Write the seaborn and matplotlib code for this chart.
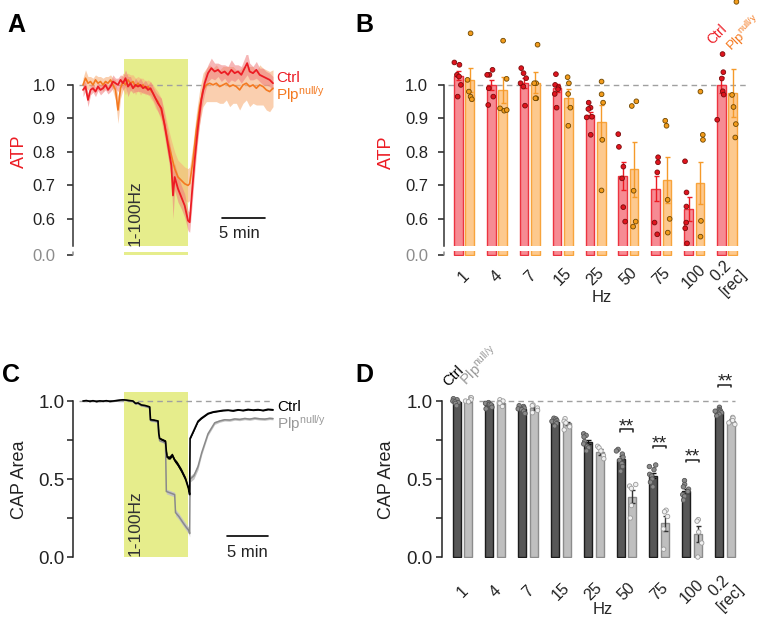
import numpy as np
import pandas as pd
import matplotlib
matplotlib.use("Agg")
import matplotlib.pyplot as plt
import matplotlib.transforms as mtransforms
import seaborn as sns

# ======================= DATA =======================
hz_labels = ["1", "4", "7", "15", "25", "50", "75", "100", "0.2\n[rec]"]
genotypes = ["Ctrl", "Plp"]
stim_window = [4.92, 12.6]          # minutes

# ---- Panel A: ATP time course ----
atp_t_ctrl = [0.0, 0.3, 0.6, 0.9, 1.2, 1.5, 1.8, 2.1, 2.4, 2.7, 3.0, 3.3, 3.6, 3.9, 4.2, 4.5, 4.8, 5.1, 5.4, 5.7,
              6.0, 6.3, 6.6, 6.9, 7.2, 7.5, 7.8, 8.1, 8.4, 8.7,
              9.0, 9.4, 9.8, 10.2, 10.6, 10.8, 11.0, 11.4, 11.8, 12.2, 12.6, 12.8, 13.0, 13.4, 13.8, 14.2, 14.6,
              15.0, 15.4, 15.8, 16.2, 16.6, 17.0, 17.4, 17.8, 18.2, 18.6, 19.0, 19.4, 19.7, 20.0, 20.4, 20.8,
              21.2, 21.6, 22.0, 22.4, 22.8]
atp_ctrl = [0.985, 0.995, 0.955, 0.985, 0.99, 0.98, 0.995, 0.985, 0.99, 1.0, 0.985, 0.995, 1.01, 1.005, 1.0,
            1.015, 1.005, 1.02, 0.995, 1.005, 0.99, 1.0, 0.995, 1.0, 0.99, 0.995, 0.985, 0.99, 0.975, 0.96,
            0.945, 0.93, 0.88, 0.82, 0.76, 0.67, 0.725, 0.69, 0.665, 0.64, 0.595, 0.59, 0.655, 0.775, 0.875,
            0.955, 1.005, 1.035, 1.05, 1.04, 1.045, 1.035, 1.04, 1.03, 1.045, 1.035, 1.04, 1.03, 1.05, 1.065,
            1.04, 1.035, 1.045, 1.03, 1.025, 1.02, 1.015, 1.005]
atp_ctrl_sem = [0.02, 0.015, 0.02, 0.015, 0.012, 0.015, 0.012, 0.015, 0.012, 0.015, 0.012, 0.015, 0.02, 0.015,
                0.02, 0.015, 0.02, 0.025, 0.03, 0.02, 0.015, 0.02, 0.015, 0.02, 0.015, 0.02, 0.015, 0.02, 0.02,
                0.02, 0.025, 0.03, 0.03, 0.035, 0.04, 0.07, 0.04, 0.04, 0.035, 0.035, 0.03, 0.03, 0.04, 0.04,
                0.035, 0.03, 0.03, 0.025, 0.03, 0.025, 0.02, 0.025, 0.02, 0.025, 0.03, 0.025, 0.02, 0.025, 0.03,
                0.035, 0.025, 0.02, 0.025, 0.02, 0.025, 0.02, 0.02, 0.02]
atp_t_plp = [0.0, 0.3, 0.6, 0.9, 1.2, 1.5, 1.8, 2.1, 2.4, 2.7, 3.0, 3.3, 3.6, 3.9, 4.2, 4.5, 4.8, 5.1, 5.4, 5.7,
             6.0, 6.3, 6.6, 6.9, 7.2, 7.5, 7.8, 8.1, 8.4, 8.7,
             9.0, 9.4, 9.8, 10.2, 10.6, 11.0, 11.4, 11.8, 12.2, 12.6, 12.8, 13.2, 13.6, 14.0, 14.4, 14.8, 15.2,
             15.6, 16.0, 16.4, 16.8, 17.2, 17.6, 18.0, 18.4, 18.8, 19.2, 19.6, 20.0, 20.4, 20.8, 21.2, 21.6,
             22.0, 22.4, 22.8]
atp_plp = [1.0, 1.02, 1.005, 1.01, 1.0, 1.015, 1.005, 1.01, 1.0, 1.01, 1.005, 1.015, 1.0, 0.985, 0.925, 0.99,
           1.01, 1.0, 1.015, 1.005, 1.01, 0.995, 1.005, 0.995, 1.0, 0.99, 0.995, 0.985, 0.975, 0.96,
           0.95, 0.925, 0.88, 0.83, 0.79, 0.75, 0.725, 0.715, 0.705, 0.70, 0.705, 0.775, 0.865, 0.935, 0.985,
           1.0, 1.005, 1.0, 1.005, 0.995, 1.0, 1.005, 0.995, 1.0, 0.995, 0.985, 1.0, 1.005, 0.995, 1.0, 0.99,
           1.0, 0.995, 0.985, 0.98, 0.99]
atp_plp_sem = [0.02, 0.025, 0.02, 0.015, 0.02, 0.015, 0.02, 0.015, 0.02, 0.015, 0.02, 0.015, 0.02, 0.03, 0.04,
               0.03, 0.025, 0.03, 0.02, 0.025, 0.02, 0.025, 0.02, 0.025, 0.02, 0.02, 0.02, 0.025, 0.025, 0.03,
               0.03, 0.035, 0.04, 0.045, 0.045, 0.05, 0.05, 0.05, 0.05, 0.05, 0.05, 0.05, 0.05, 0.05, 0.05,
               0.05, 0.055, 0.05, 0.055, 0.05, 0.055, 0.05, 0.06, 0.055, 0.05, 0.06, 0.055, 0.05, 0.06, 0.055,
               0.05, 0.06, 0.055, 0.06, 0.06, 0.055]

# ---- Panel B: ATP per frequency ----
atp_ctrl_mean = [1.027, 1.0, 1.007, 0.99, 0.91, 0.728, 0.69, 0.629, 1.0]
atp_ctrl_err = [0.013, 0.015, 0.015, 0.012, 0.01, 0.041, 0.038, 0.036, 0.025]
atp_plp_mean = [1.015, 0.985, 1.007, 0.96, 0.889, 0.748, 0.716, 0.707, 0.975]
atp_plp_err = [0.035, 0.04, 0.03, 0.027, 0.052, 0.082, 0.07, 0.062, 0.072]
atp_ctrl_points = [[1.067, 1.06, 1.03, 1.025, 1.0, 0.965],
                   [1.045, 1.03, 1.03, 0.99, 0.965, 0.94],
                   [1.05, 1.035, 1.02, 1.005, 0.995, 0.938],
                   [1.032, 1.0, 0.993, 0.987, 0.973, 0.932],
                   [0.947, 0.932, 0.928, 0.905, 0.903, 0.851],
                   [0.853, 0.815, 0.756, 0.721, 0.635, 0.592],
                   [0.784, 0.769, 0.739, 0.589, 0.554],
                   [0.772, 0.679, 0.637, 0.589, 0.572, 0.527],
                   [1.092, 1.038, 1.019, 0.981, 0.971, 0.896]]
atp_plp_points = [[1.154, 1.015, 0.98, 0.965, 0.957],
                  [1.132, 1.018, 0.93, 0.923, 0.925],
                  [1.12, 1.005, 1.005, 0.96, 0.96],
                  [1.023, 1.005, 0.973, 0.932, 0.878],
                  [1.01, 0.972, 0.947, 0.836, 0.685],
                  [0.951, 0.937, 0.684, 0.592, 0.577],
                  [0.893, 0.878, 0.657, 0.6, 0.559],
                  [0.98, 0.851, 0.836, 0.594, 0.547],
                  [1.248, 0.97, 0.934, 0.883, 0.843]]

# ---- Panel C: CAP area time course ----
cap_t_ctrl = [0.0, 0.4, 0.8, 1.2, 1.6, 2.0, 2.4, 2.8, 3.2, 3.6, 4.0, 4.4, 4.8, 5.2, 5.6, 6.0, 6.3, 6.6, 7.0,
              7.4, 7.8, 8.0, 8.1, 8.5, 9.0, 9.1, 9.2, 9.5, 9.9, 10.0, 10.1, 10.4, 10.7, 11.0, 11.3, 11.8, 12.3,
              12.65, 12.8, 12.85, 13.2, 13.8, 14.2, 15.0, 15.6, 16.2, 16.8, 17.4, 18.0, 18.6, 19.2, 19.8,
              20.4, 21.0, 21.6, 22.2, 22.8]
cap_ctrl = [1.0, 1.003, 0.998, 1.002, 0.997, 1.001, 0.999, 1.002, 0.998, 1.0, 1.003, 1.006, 1.008, 1.006,
            1.003, 1.0, 0.985, 0.988, 0.975, 0.972, 0.966, 0.962, 0.88, 0.878, 0.872, 0.79, 0.76, 0.752,
            0.742, 0.68, 0.64, 0.636, 0.655, 0.62, 0.6, 0.555, 0.5, 0.44, 0.40, 0.76, 0.8, 0.87, 0.89, 0.92,
            0.93, 0.935, 0.94, 0.942, 0.938, 0.944, 0.94, 0.946, 0.942, 0.945, 0.94, 0.947, 0.944]
cap_ctrl_sem = [0.003, 0.003, 0.003, 0.003, 0.003, 0.003, 0.003, 0.003, 0.003, 0.003, 0.003, 0.003, 0.003,
                0.003, 0.003, 0.003, 0.003, 0.003, 0.003, 0.003, 0.003, 0.005, 0.005, 0.005, 0.005, 0.006,
                0.006, 0.008, 0.008, 0.008, 0.01, 0.01, 0.012, 0.012, 0.013, 0.014, 0.014, 0.014, 0.012,
                0.006, 0.006, 0.005, 0.005, 0.004, 0.004, 0.004, 0.004, 0.004, 0.004, 0.004, 0.004, 0.004,
                0.004, 0.004, 0.004, 0.004, 0.004]
cap_t_plp = [0.0, 0.4, 0.8, 1.2, 1.6, 2.0, 2.4, 2.8, 3.2, 3.6, 4.0, 4.4, 4.8, 5.2, 5.6, 6.0, 6.3, 6.6, 7.0,
             7.4, 7.8, 8.0, 8.1, 8.5, 9.0, 9.1, 9.2, 9.5, 9.9, 10.0, 10.5, 11.0, 11.1, 11.5, 12.0, 12.4, 12.7,
             12.8, 12.85, 13.3, 13.8, 14.25, 15.0, 15.8, 16.4, 17.0, 17.6, 18.2, 18.8, 19.4, 20.0, 20.6,
             21.2, 21.8, 22.4, 22.8]
cap_plp = [1.0, 0.998, 1.002, 0.999, 1.001, 0.997, 1.0, 0.998, 1.001, 0.999, 1.002, 1.004, 1.006, 1.004,
           1.0, 0.997, 0.982, 0.984, 0.97, 0.966, 0.96, 0.955, 0.875, 0.872, 0.866, 0.78, 0.745, 0.74, 0.73,
           0.42, 0.41, 0.40, 0.285, 0.26, 0.22, 0.19, 0.17, 0.15, 0.5, 0.52, 0.58, 0.67, 0.79, 0.86, 0.872,
           0.88, 0.878, 0.885, 0.882, 0.888, 0.884, 0.89, 0.886, 0.884, 0.889, 0.887]
cap_plp_sem = [0.004, 0.004, 0.004, 0.004, 0.004, 0.004, 0.004, 0.004, 0.004, 0.004, 0.004, 0.004, 0.004,
               0.004, 0.004, 0.004, 0.004, 0.004, 0.004, 0.004, 0.004, 0.006, 0.006, 0.006, 0.006, 0.006,
               0.006, 0.006, 0.006, 0.015, 0.015, 0.015, 0.02, 0.02, 0.02, 0.02, 0.02, 0.02, 0.02, 0.02,
               0.02, 0.015, 0.012, 0.01, 0.008, 0.008, 0.008, 0.008, 0.008, 0.008, 0.008, 0.008, 0.008,
               0.008, 0.008, 0.008]

# ---- Panel D: CAP area per frequency ----
cap_ctrl_mean = [0.995, 0.98, 0.948, 0.868, 0.737, 0.628, 0.521, 0.423, 0.932]
cap_ctrl_err = [0.006, 0.005, 0.007, 0.008, 0.014, 0.017, 0.017, 0.015, 0.008]
cap_plp_mean = [1.0, 0.989, 0.953, 0.857, 0.675, 0.387, 0.216, 0.147, 0.874]
cap_plp_err = [0.005, 0.008, 0.008, 0.011, 0.02, 0.04, 0.048, 0.05, 0.01]
cap_ctrl_points = [[1.015, 1.008, 1.0, 0.995, 0.99, 0.985, 0.97],
                   [0.99, 0.985, 0.98, 0.978, 0.975, 0.96, 0.95],
                   [0.97, 0.965, 0.955, 0.95, 0.945, 0.935, 0.92],
                   [0.89, 0.885, 0.875, 0.87, 0.865, 0.855, 0.84],
                   [0.79, 0.78, 0.77, 0.74, 0.725, 0.71, 0.7, 0.68],
                   [0.69, 0.68, 0.66, 0.64, 0.62, 0.6, 0.58, 0.55],
                   [0.59, 0.58, 0.56, 0.53, 0.52, 0.5, 0.48, 0.45],
                   [0.49, 0.465, 0.45, 0.435, 0.42, 0.4, 0.39, 0.365],
                   [0.96, 0.945, 0.94, 0.935, 0.93, 0.925, 0.915, 0.905]]
cap_plp_points = [[1.022, 1.02, 1.008, 1.0, 0.995],
                  [1.008, 1.0, 0.99, 0.985, 0.965],
                  [0.975, 0.97, 0.955, 0.94, 0.925],
                  [0.887, 0.87, 0.86, 0.835, 0.815],
                  [0.71, 0.7, 0.68, 0.65, 0.63],
                  [0.465, 0.455, 0.44, 0.33, 0.25],
                  [0.3, 0.29, 0.26, 0.18, 0.05],
                  [0.24, 0.23, 0.16, 0.09, 0.0],
                  [0.895, 0.89, 0.875, 0.86, 0.85]]
sig_groups = [5, 6, 7, 8]
sig_levels = [0.818, 0.711, 0.622, 1.103]
sig_text = "**"

# ======================= STYLE =======================
sns.set_style("ticks")
plt.rcParams["font.family"] = ["Liberation Sans", "DejaVu Sans"]
plt.rcParams["mathtext.fontset"] = "custom"
plt.rcParams["mathtext.rm"] = "Liberation Sans"
plt.rcParams["mathtext.it"] = "Liberation Sans:italic"
plt.rcParams["mathtext.bf"] = "Liberation Sans:bold"

RED = "#ec1c24"
ORANGE = "#f47920"
RED_BAND = "#f07a7a"
ORANGE_BAND = "#f8b07a"
RED_BAR, RED_EDGE = "#f68b93", "#ec3440"
OR_BAR, OR_EDGE = "#fdc98e", "#f8a43c"
RED_PT, RED_PT_EDGE = "#e0141e", "#7a0a0a"
OR_PT, OR_PT_EDGE = "#f39c1c", "#6e4600"
DARK_BAR, DARK_EDGE = "#575757", "#1c1c1c"
LIGHT_BAR, LIGHT_EDGE = "#bfbfbf", "#8c8c8c"
YELLOW = "#e6ed8c"
GRAY_TXT = "#8c8c8c"
PLP_GRAY = "#999999"
DASH = "#a0a0a0"
INK = "#222222"

W, H = 767, 618
fig = plt.figure(figsize=(W / 100, H / 100), dpi=100)


def add_ax(l, t, r, b):
    return fig.add_axes([l / W, 1 - b / H, (r - l) / W, (b - t) / H])


def to_axes(ax, xpx, ypx):
    p = ax.get_position()
    return ((xpx / W - p.x0) / p.width, ((1 - ypx / H) - p.y0) / p.height)


def ftext(xpx, ypx, s, **kw):
    fig.text(xpx / W, 1 - ypx / H, s, **kw)


PLP_LABEL = r"Plp$^{\mathregular{null/y}}$"

# broken-axis scale (0 .. 0.52 compressed)
BRK = 0.52
KC = 9.8 / (0.52 * 335)


def brk_fwd(y):
    y = np.asarray(y, dtype=float)
    return np.where(y >= BRK, y, BRK - (BRK - y) * KC)


def brk_inv(z):
    z = np.asarray(z, dtype=float)
    return np.where(z >= BRK, z, BRK - (BRK - z) / KC)


def style_broken_y(ax, pad):
    ax.set_yscale("function", functions=(brk_fwd, brk_inv))
    ax.set_ylim(-0.03, 1.09)
    ax.set_yticks([0.0, 0.6, 0.7, 0.8, 0.9, 1.0], ["0.0", "0.6", "0.7", "0.8", "0.9", "1.0"])
    ax.tick_params(axis="y", length=4, width=1.1, pad=pad, labelsize=12, colors=INK)
    sns.despine(ax=ax, bottom=True)
    ax.spines["left"].set_bounds(BRK, 1.0)
    ax.spines["left"].set_linewidth(1.1)
    ax.spines["left"].set_color("#333333")
    tk = ax.yaxis.get_major_ticks()[0]
    tk.label1.set_color(GRAY_TXT)
    tk.tick1line.set_color(GRAY_TXT)
    trans = mtransforms.blended_transform_factory(ax.transAxes, ax.transData)
    ax.plot([0, 0], [0, 0.16], transform=trans, color=GRAY_TXT, lw=1.1, clip_on=False)


def style_linear_y(ax, pad, labelsize):
    ax.set_ylim(-0.005, 1.07)
    ax.set_yticks([0.0, 0.5, 1.0], ["0.0", "0.5", "1.0"])
    ax.set_yticks([0.25, 0.75], minor=True)
    ax.tick_params(axis="y", which="both", length=4, width=1.1, pad=pad, labelsize=labelsize, colors=INK)
    sns.despine(ax=ax, bottom=True)
    ax.spines["left"].set_bounds(0, 1.0)
    ax.spines["left"].set_linewidth(1.1)
    ax.spines["left"].set_color(INK)


def points_frame(ctrl_pts, plp_pts, col):
    rows = []
    for hz, vals in zip(hz_labels, ctrl_pts):
        rows += [(hz, "Ctrl", v) for v in vals]
    for hz, vals in zip(hz_labels, plp_pts):
        rows += [(hz, "Plp", v) for v in vals]
    return pd.DataFrame(rows, columns=["Hz", "genotype", col])


def bar_panel(ax, col, ctrl_mean, plp_mean, ctrl_err, plp_err, ctrl_pts, plp_pts,
              bar_cols, edge_cols, err_cols, pt_cols, pt_edges, width, gap, pt_size):
    df = pd.DataFrame({"Hz": hz_labels * 2,
                       "genotype": ["Ctrl"] * len(hz_labels) + ["Plp"] * len(hz_labels),
                       col: ctrl_mean + plp_mean})
    sns.barplot(data=df, x="Hz", y=col, hue="genotype", order=hz_labels, hue_order=genotypes,
                palette=bar_cols, saturation=1, width=width, gap=gap, errorbar=None,
                legend=False, ax=ax, zorder=2)
    bar_conts = list(ax.containers)
    for cont, ec in zip(bar_conts, edge_cols):
        for b in cont:
            b.set_edgecolor(ec)
            b.set_linewidth(1.0)
    for cont, err, ec in zip(bar_conts, [ctrl_err, plp_err], err_cols):
        xs = [b.get_x() + b.get_width() / 2 for b in cont]
        ys = [b.get_height() for b in cont]
        ax.errorbar(xs, ys, yerr=err, fmt="none", ecolor=ec, elinewidth=1.0,
                    capsize=1.8, capthick=1.0, zorder=3)
    pts = points_frame(ctrl_pts, plp_pts, col)
    n0 = len(ax.collections)
    sns.stripplot(data=pts, x="Hz", y=col, hue="genotype", order=hz_labels, hue_order=genotypes,
                  palette=pt_cols, dodge=True, jitter=0.22, size=pt_size, linewidth=0.6,
                  edgecolor=pt_edges[0], legend=False, ax=ax, zorder=4)
    ref = np.array(matplotlib.colors.to_rgb(pt_cols[1]))
    for c in ax.collections[n0:]:
        c.set_clip_on(False)
        fc = c.get_facecolor()
        if len(fc) and np.allclose(fc[0][:3], ref, atol=0.02):
            c.set_edgecolor(pt_edges[1])
        else:
            c.set_edgecolor(pt_edges[0])
    return bar_conts


np.random.seed(7)

# ======================= PANEL A =======================
axA = add_ax(73, 54.74, 285, 256.06)
axA.fill_between(stim_window, BRK, 1.078, color=YELLOW, lw=0, zorder=0)
axA.fill_between(stim_window, 0.0, 0.17, color=YELLOW, lw=0, zorder=0)
axA.plot([-0.5, 22.8], [1.0, 1.0], ls=(0, (4, 3)), color=DASH, lw=1.0, zorder=0.5)
pl, ps = np.array(atp_plp), np.array(atp_plp_sem)
cl, cs = np.array(atp_ctrl), np.array(atp_ctrl_sem)
axA.fill_between(atp_t_plp, pl - ps, pl + ps, color=ORANGE_BAND, alpha=0.6, lw=0, zorder=1)
axA.fill_between(atp_t_ctrl, cl - cs, cl + cs, color=RED_BAND, alpha=0.55, lw=0, zorder=1.1)
sns.lineplot(x=atp_t_plp, y=atp_plp, color=ORANGE, lw=1.2, ax=axA, zorder=2)
sns.lineplot(x=atp_t_ctrl, y=atp_ctrl, color=RED, lw=1.3, ax=axA, zorder=2.1)
style_broken_y(axA, pad=8.5)
axA.set_xlim(-1.2, 24.24)
axA.set_xticks([])
axA.set_xlabel("")
axA.plot([16.64, 21.84], [0.604, 0.604], color="black", lw=1.2, clip_on=False)
axA.text(18.72, 0.5424, "5 min", ha="center", va="baseline", fontsize=12, color=INK)
axA.text(23.2, 1.008, "Ctrl", color=RED, fontsize=11, ha="left", va="baseline", clip_on=False)
axA.text(23.2, 0.955, PLP_LABEL, color=ORANGE, fontsize=11, ha="left", va="baseline", clip_on=False)
axA.set_ylabel("ATP", color=RED, fontsize=13, va="center")
axA.yaxis.set_label_coords(*to_axes(axA, 19, 151))
ftext(140, 246.5, "1-100Hz", rotation=90, rotation_mode="anchor", ha="left", va="baseline",
      fontsize=12.5, color="#333333")

# ======================= PANEL B =======================
axB = add_ax(444, 54.74, 760, 256.06)
axB.plot([-0.5, 8.6], [1.0, 1.0], ls=(0, (4, 3)), color=DASH, lw=1.0, zorder=0.5)
bar_panel(axB, "ATP", atp_ctrl_mean, atp_plp_mean, atp_ctrl_err, atp_plp_err,
          atp_ctrl_points, atp_plp_points,
          [RED_BAR, OR_BAR], [RED_EDGE, OR_EDGE], [RED, "#f59a2a"],
          [RED_PT, OR_PT], [RED_PT_EDGE, OR_PT_EDGE], width=0.69, gap=0.24, pt_size=3.4)
style_broken_y(axB, pad=7.5)
axB.fill_between([-0.6, 9.0], 0.24, BRK - 0.002, color="white", lw=0, zorder=2.5)
axB.set_xlim(-0.608, 9.0)
axB.tick_params(axis="x", length=0, pad=15, labelsize=11.5, colors=INK)
for lab in axB.get_xticklabels():
    lab.set_rotation(45)
    lab.set_ha("center")
    lab.set_va("center")
axB.set_xlabel("Hz", fontsize=12, va="center")
axB.xaxis.set_label_coords(*to_axes(axB, 602, 297))
axB.set_ylabel("ATP", color=RED, fontsize=13, va="center")
axB.yaxis.set_label_coords(*to_axes(axB, 386, 152))
ftext(712.3, 45, "Ctrl", rotation=45, rotation_mode="anchor", ha="left", va="baseline",
      fontsize=10, color=RED)
ftext(731.5, 51.7, PLP_LABEL, rotation=45, rotation_mode="anchor", ha="left", va="baseline",
      fontsize=9.5, color=ORANGE)

# ======================= PANEL C =======================
axC = add_ax(73, 390.1, 285, 557.8)
axC.fill_between(stim_window, 0.0, 1.06, color=YELLOW, lw=0, zorder=0)
axC.plot([-0.5, 22.8], [1.0, 1.0], ls=(0, (4, 3)), color=DASH, lw=1.0, zorder=0.5)
gp, gs = np.array(cap_plp), np.array(cap_plp_sem)
bk, bs = np.array(cap_ctrl), np.array(cap_ctrl_sem)
axC.fill_between(cap_t_plp, gp - gs, gp + gs, color="#c4c4c4", lw=0, zorder=1)
axC.fill_between(cap_t_ctrl, bk - bs, bk + bs, color="black", lw=0, zorder=1.1)
sns.lineplot(x=cap_t_plp, y=cap_plp, color="#8a8a8a", lw=1.1, ax=axC, zorder=2)
sns.lineplot(x=cap_t_ctrl, y=cap_ctrl, color="black", lw=1.2, ax=axC, zorder=2.1)
style_linear_y(axC, pad=2, labelsize=13.5)
axC.set_xlim(-1.2, 24.24)
axC.set_xticks([])
axC.set_xlabel("")
axC.plot([17.24, 22.24], [0.1346, 0.1346], color="black", lw=1.2, clip_on=False)
axC.text(19.72, 0.003, "5 min", ha="center", va="baseline", fontsize=12, color=INK)
axC.text(23.3, 0.935, "Ctrl", color="black", fontsize=11, ha="left", va="baseline", clip_on=False)
axC.text(23.3, 0.82, PLP_LABEL, color=PLP_GRAY, fontsize=11, ha="left", va="baseline", clip_on=False)
axC.set_ylabel("CAP Area", color=INK, fontsize=13, va="center")
axC.yaxis.set_label_coords(*to_axes(axC, 20, 480))
ftext(140, 556, "1-100Hz", rotation=90, rotation_mode="anchor", ha="left", va="baseline",
      fontsize=12.5, color="#333333")

# ======================= PANEL D =======================
axD = add_ax(442, 390.1, 760, 557.8)
axD.plot([0.5, 8.3], [1.0, 1.0], ls=(0, (4, 3)), color=DASH, lw=1.0, zorder=0.5)
bar_panel(axD, "CAP", cap_ctrl_mean, cap_plp_mean, cap_ctrl_err, cap_plp_err,
          cap_ctrl_points, cap_plp_points,
          [DARK_BAR, LIGHT_BAR], [DARK_EDGE, LIGHT_EDGE], ["#111111", "#333333"],
          ["#8a8a8a", "#f0f0f0"], ["#555555", "#9a9a9a"], width=0.71, gap=0.31, pt_size=3.2)
style_linear_y(axD, pad=3, labelsize=13.5)
axD.set_xlim(-0.625, 9.07)
axD.tick_params(axis="x", length=0, pad=24.5, labelsize=11.5, colors=INK)
for lab in axD.get_xticklabels():
    lab.set_rotation(45)
    lab.set_ha("center")
    lab.set_va("center")
axD.set_xlabel("Hz", fontsize=12, va="center")
axD.xaxis.set_label_coords(*to_axes(axD, 603, 610))
axD.set_ylabel("CAP Area", color=INK, fontsize=13, va="center")
axD.yaxis.set_label_coords(*to_axes(axD, 386.5, 480))
for g, yb in zip(sig_groups, sig_levels):
    axD.plot([g - 0.2, g - 0.2, g + 0.2, g + 0.2], [yb - 0.015, yb, yb, yb - 0.015],
             color=INK, lw=1.1, clip_on=False)
    axD.text(g, yb - 0.012, sig_text, ha="center", va="baseline", fontsize=14, color=INK,
             clip_on=False)
ftext(448.3, 386.7, "Ctrl", rotation=45, rotation_mode="anchor", ha="left", va="baseline",
      fontsize=10.5, color="black")
ftext(466, 386, PLP_LABEL, rotation=45, rotation_mode="anchor", ha="left", va="baseline",
      fontsize=10.5, color=PLP_GRAY)

# ======================= PANEL LETTERS =======================
for letter, x, y in [("A", 16, 32), ("B", 364, 32), ("C", 11, 382), ("D", 364, 382)]:
    ftext(x, y, letter, fontsize=18, fontweight="bold", ha="center", va="baseline", color="black")

fig.savefig("out.png", dpi=100)
